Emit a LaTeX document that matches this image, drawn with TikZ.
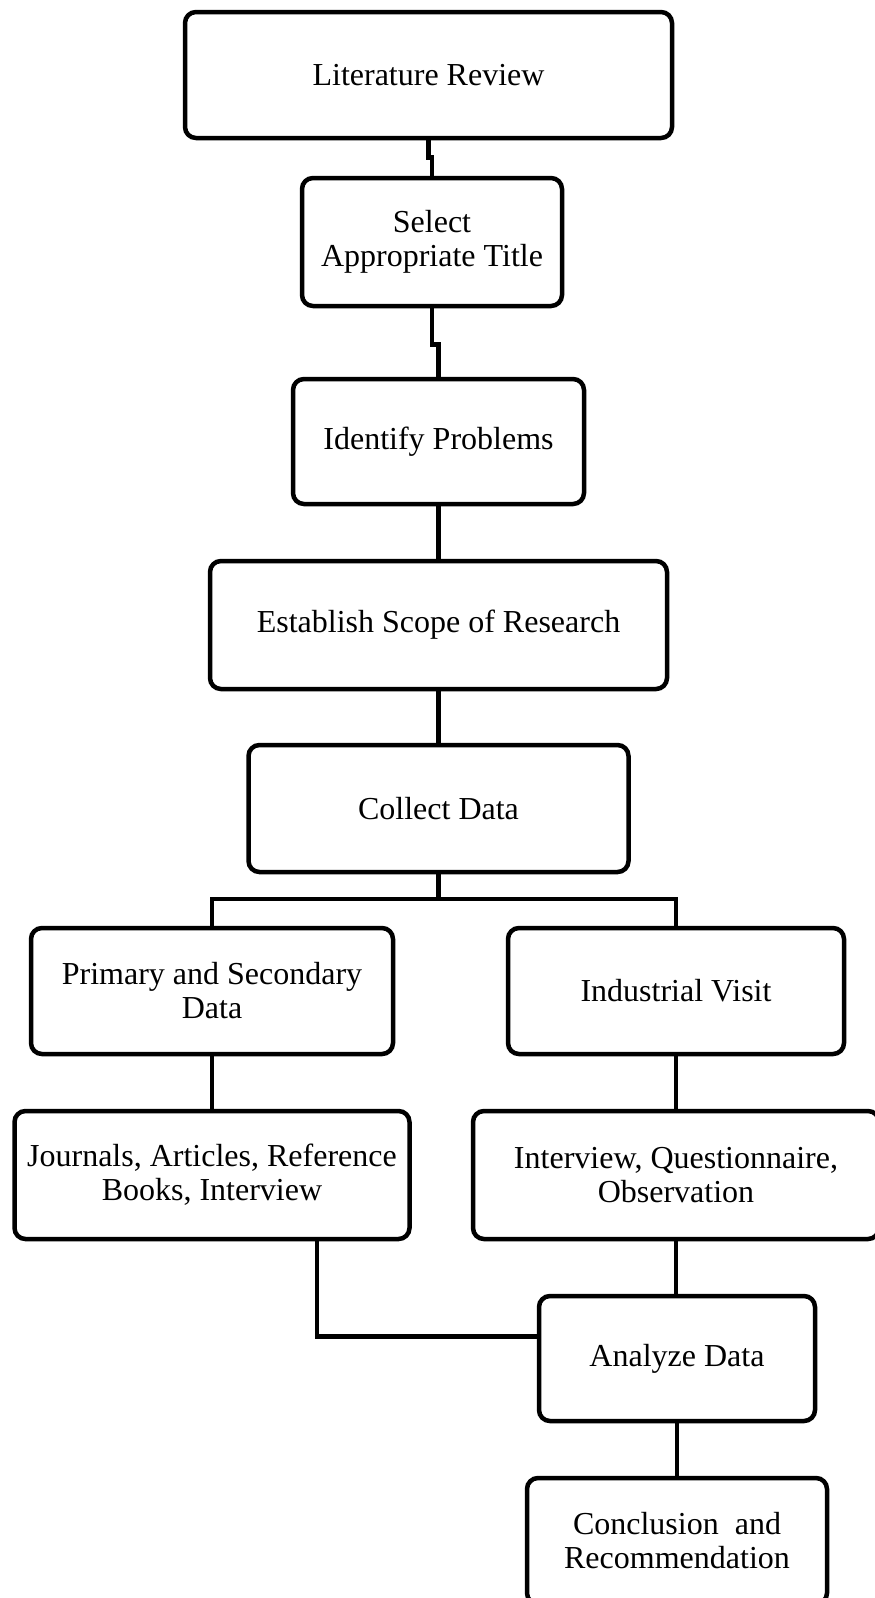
\documentclass[tikz,border=0pt]{standalone}
\usepackage{fontspec}
\setmainfont{Liberation Serif}
\begin{document}
\begin{tikzpicture}[x=1pt,y=1pt,
  stepbox/.style={draw=black, line width=4.5pt, rounded corners=11pt, fill=white,
    align=center, inner sep=0pt, font=\fontsize{32}{34}\selectfont},
  conn/.style={draw=black, line width=4.5pt}]
\useasboundingbox (0,0) rectangle (875,-1598);
\clip (0,0) rectangle (875,-1598);
\fill[white] (0,0) rectangle (875,-1598);
\node[stepbox, minimum width=487pt, minimum height=126pt] (lit) at (428.5,-75) {Literature Review};
\node[stepbox, minimum width=260pt, minimum height=128pt] (sel) at (432,-242) {Select\\Appropriate Title};
\node[stepbox, minimum width=291pt, minimum height=125pt] (idp) at (438.5,-441.5) {Identify Problems};
\node[stepbox, minimum width=457pt, minimum height=128pt] (est) at (438.5,-625) {Establish Scope of Research};
\node[stepbox, minimum width=380pt, minimum height=127pt] (col) at (438.5,-808.5) {Collect Data};
\node[stepbox, minimum width=362pt, minimum height=126pt] (pri) at (212,-991) {Primary and Secondary\\Data};
\node[stepbox, minimum width=336pt, minimum height=126pt] (ind) at (676,-991) {Industrial Visit};
\node[stepbox, minimum width=395pt, minimum height=128pt] (jour) at (212,-1175) {Journals, Articles, Reference\\Books, Interview};
\node[stepbox, minimum width=406pt, minimum height=128pt] (intv) at (676,-1175) {Interview, Questionnaire,\\Observation};
\node[stepbox, minimum width=276pt, minimum height=125pt] (ana) at (677,-1358.5) {Analyze Data};
\node[stepbox, minimum width=300pt, minimum height=126pt] (con) at (677,-1541) {Conclusion\ \ and\\Recommendation};

\draw[conn] (lit.south) -- ++(0,-17) -| (sel.north);
\draw[conn] (sel.south) -- ++(0,-36) -| (idp.north);
\draw[conn] (idp.south) -- (est.north);
\draw[conn] (est.south) -- (col.north);
\draw[conn] (col.south) -- ++(0,-25);
\draw[conn] (pri.north) -- ++(0,27) -| (ind.north);
\draw[conn] (pri.south) -- (jour.north);
\draw[conn] (ind.south) -- (intv.north);
\draw[conn] (intv.south) -- (intv.south |- ana.north);
\draw[conn] (ana.south) -- (con.north);
\draw[conn] ([xshift=105pt]jour.south) |- ([yshift=22pt]ana.west);
\end{tikzpicture}
\end{document}
